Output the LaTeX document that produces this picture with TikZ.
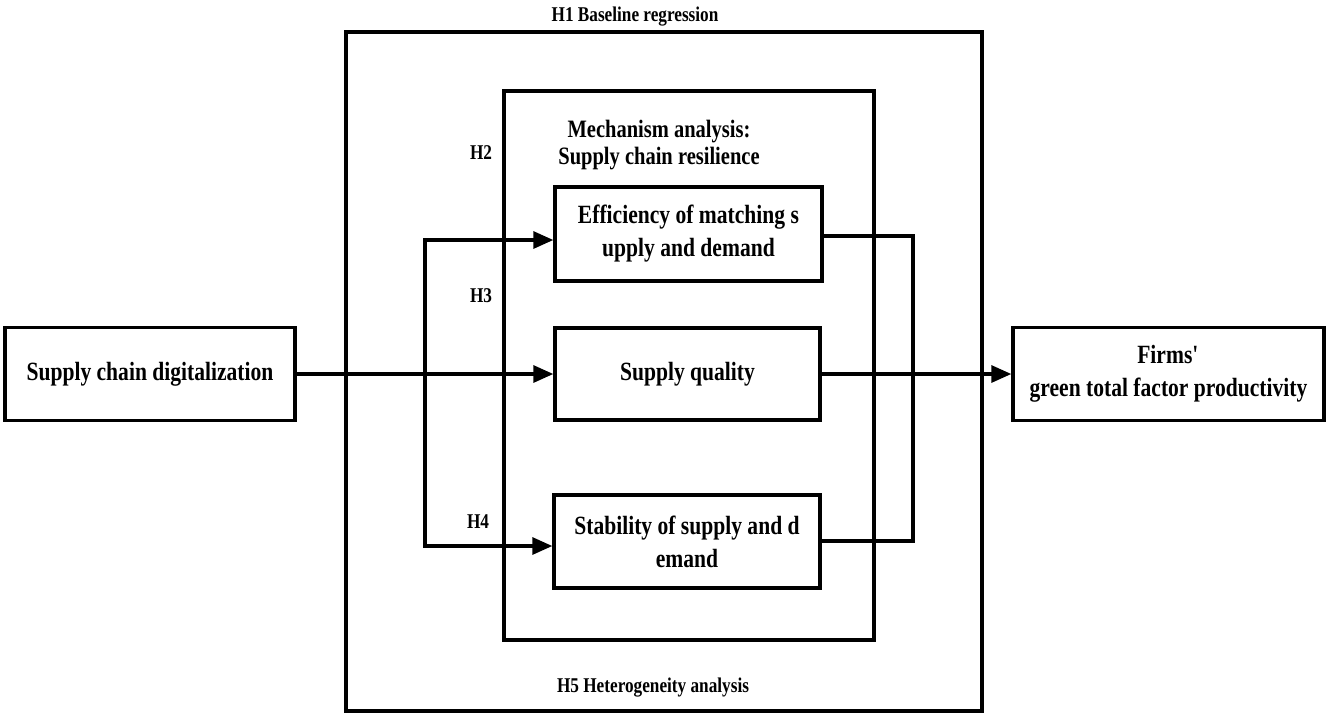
\documentclass[tikz,border=0pt]{standalone}
\usepackage{fontspec}
\setmainfont{Liberation Serif}[FakeStretch=0.82]
\usetikzlibrary{arrows.meta}
\begin{document}
\begin{tikzpicture}[x=1pt,y=-1pt,
  box/.style={draw,line width=3.4pt,rectangle,inner sep=0pt,align=center,
    font=\fontsize{26.3}{33}\selectfont\bfseries},
  frame/.style={draw,line width=3.4pt},
  lab/.style={inner sep=0pt,font=\fontsize{21}{27}\selectfont\bfseries},
  biglab/.style={inner sep=0pt,align=center,font=\fontsize{25}{27}\selectfont\bfseries},
  conn/.style={line width=3.2pt},
  arr/.style={conn,-{Triangle[length=20pt,width=17pt]}},
  arrboth/.style={conn,{Triangle[length=20pt,width=17pt]}-{Triangle[length=20pt,width=17pt]}}]
\useasboundingbox (0,0) rectangle (1329,713);
% frames
\node[frame,rectangle,inner sep=0pt,minimum width=636pt,minimum height=679pt] (outer) at (664,371.5) {};
\node[frame,rectangle,inner sep=0pt,minimum width=370pt,minimum height=549pt] (inner) at (689,365.5) {};
% labels
\node[lab] (h1) at (635,17) {H1 Baseline regression};
\node[lab] (h5) at (653,688) {H5 Heterogeneity analysis};
\node[biglab] (mech) at (659,145) {Mechanism analysis:\\Supply chain resilience};
\node[lab] (h2) at (481,153) {H2};
\node[lab] (h3) at (481,296) {H3};
\node[lab] (h4) at (478,522) {H4};
% boxes
\node[box,minimum width=290pt,minimum height=93pt] (scd) at (150,374) {Supply chain digitalization};
\node[box,minimum width=311pt,minimum height=93pt] (gtfp) at (1168.5,374) {Firms\textquotesingle\\green total factor productivity};
\node[box,minimum width=267pt,minimum height=94pt] (eff) at (688.5,234) {Efficiency of matching s\\upply and demand};
\node[box,minimum width=265pt,minimum height=92pt] (sq) at (687.5,374) {Supply quality};
\node[box,minimum width=266pt,minimum height=93pt] (stab) at (687,541.5) {Stability of supply and d\\emand};
% junction coordinates
\coordinate (j1) at (425,240);
\coordinate (j2) at (425,546);
\coordinate (r1) at (913,236);
\coordinate (r2) at (913,541);
% connectors
\draw[arr] (scd.east) -- (sq.west);
\draw[arrboth] (j1 -| eff.west) -- (j1) -- (j2) -- (j2 -| stab.west);
\draw[conn] (r1 -| eff.east) -- (r1) -- (r2) -- (r2 -| stab.east);
\draw[arr] (sq.east) -- (gtfp.west);
\end{tikzpicture}
\end{document}
